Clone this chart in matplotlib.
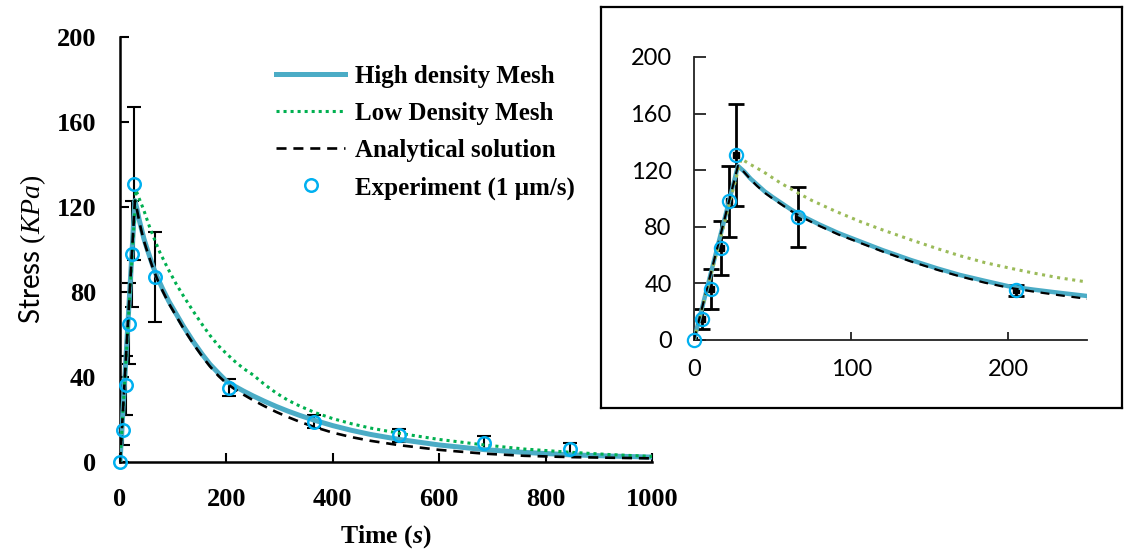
import numpy as np
import matplotlib
matplotlib.use("Agg")
import matplotlib.pyplot as plt

plt.rcParams['mathtext.fontset'] = 'custom'
plt.rcParams['mathtext.rm'] = 'Liberation Serif'
plt.rcParams['mathtext.it'] = 'Liberation Serif:italic'
plt.rcParams['mathtext.bf'] = 'Liberation Serif:bold'
plt.rcParams['mathtext.bfit'] = 'Liberation Serif:italic:bold'

# Courbes (temps en s, contrainte en KPa)
t_high = [0, 28, 32, 36, 40, 45, 50, 56, 62, 70, 80, 92, 106, 120, 138, 155, 169, 185, 200, 216,
          232, 250, 272, 294, 316, 338, 366, 400, 435, 470, 525, 600, 685, 760, 845, 920, 1000]
s_high = [0, 123, 119, 114, 110, 105, 101, 96.5, 92, 87, 81.5, 75.5, 69.5, 63.5, 56.5, 50.5, 46, 41.8, 38, 35.6,
          33.4, 31.1, 28.5, 26.1, 23.9, 21.9, 19.6, 17.1, 14.9, 13.0, 10.6, 8.0, 5.8, 4.5, 3.4, 2.8, 2.3]

t_low = [0, 30, 36, 44, 55, 66, 75, 90, 106, 120, 138, 155, 169, 185, 200, 216, 232, 250, 272, 294,
         316, 338, 366, 400, 435, 470, 525, 600, 685, 760, 845, 920, 1000]
s_low = [0, 128, 124, 119, 111, 104, 98.6, 91, 83.6, 77.8, 70.8, 64.5, 59.6, 54.7, 51, 47.3, 44, 41, 36.4, 32.4,
         29, 26.3, 23.3, 20.4, 18, 16, 13.5, 10.6, 8, 6.1, 4.6, 3.5, 2.6]

t_ana = [0, 28, 32, 36, 40, 45, 50, 56, 62, 70, 80, 92, 106, 120, 138, 155, 169, 185, 200, 216,
         232, 250, 272, 294, 316, 338, 366, 400, 435, 470, 525, 600, 685, 760, 845, 920, 1000]
s_ana = [0, 123, 118.5, 113.5, 109, 104, 100, 95.5, 91, 86, 80.5, 74.5, 68.5, 62.5, 55.5, 49.5, 45, 40.5, 37, 34.2,
         31.7, 29.1, 26.2, 23.5, 21.1, 18.9, 16.4, 13.8, 11.7, 10.0, 7.9, 5.7, 3.9, 2.9, 2.3, 2.0, 1.7]

# Points expérimentaux (1 µm/s) avec barres d'erreur
t_exp = [0, 5, 11, 17, 22, 27, 66, 205, 365, 525, 685, 845]
s_exp = [0, 15, 36, 65, 98, 131, 87, 35, 19, 12.5, 9, 6]
err_exp = [0, 7, 14, 19, 25, 36, 21, 4, 3, 3, 3, 3]

BLUE = '#4BACC6'
GREEN = '#00B050'
GREEN2 = '#9BBB59'
CYAN = '#00B0F0'

fig = plt.figure(figsize=(11.28, 5.57), dpi=100)

# --- graphique principal ---
ax = fig.add_axes([0.1064, 0.1706, 0.4716, 0.763])
ax.errorbar(t_exp, s_exp, yerr=err_exp, fmt='none', ecolor='black',
            elinewidth=1.5, capsize=4.7, capthick=1.5, zorder=2)
ax.plot(t_high, s_high, color=BLUE, lw=3.6, label='High density Mesh', zorder=3)
ax.plot(t_low, s_low, color=GREEN, lw=2.2, linestyle=(0, (1, 1.3)), label='Low Density Mesh', zorder=4)
ax.plot(t_ana, s_ana, color='black', lw=1.9, linestyle=(0, (3.8, 2.6)), label='Analytical solution', zorder=5)
ax.plot(t_exp, s_exp, 'o', mfc='none', mec=CYAN, mew=1.8, ms=9, label='Experiment (1 µm/s)',
        zorder=6, clip_on=False)

ax.set_xlim(0, 1000)
ax.set_ylim(0, 200)
ax.set_xticks(range(0, 1001, 200))
ax.set_yticks(range(0, 201, 40))
for s in ['top', 'right']:
    ax.spines[s].set_visible(False)
for s in ['left', 'bottom']:
    ax.spines[s].set_linewidth(1.8)
ax.tick_params(direction='in', length=6.5, width=1.5, labelsize=19)
ax.tick_params(axis='y', pad=17)
ax.tick_params(axis='x', pad=18.5)
for lab in ax.get_xticklabels() + ax.get_yticklabels():
    lab.set_fontfamily('Liberation Serif')
    lab.set_fontweight('bold')

ax.set_xlabel(r'Time ($\mathbfit{s}$)', fontfamily='Liberation Serif', fontweight='bold',
              fontsize=18.5, labelpad=9)
ax.set_ylabel(r'Stress $(KPa)$', fontfamily='Lato', fontsize=20, labelpad=6.5)

leg = ax.legend(loc='upper left', bbox_to_anchor=(0.2447, 0.883), bbox_transform=fig.transFigure,
                frameon=False, borderpad=0, borderaxespad=0, handlelength=2.76,
                handletextpad=0.4, labelspacing=0.56,
                prop={'family': 'Liberation Serif', 'weight': 'bold', 'size': 18})

# --- cadre de l'encart ---
frame = fig.add_axes([0.533, 0.2675, 0.4619, 0.72])
frame.set_xticks([])
frame.set_yticks([])
for s in frame.spines.values():
    s.set_linewidth(1.6)

# --- encart (zoom 0-250 s) ---
ins = fig.add_axes([0.6152, 0.3896, 0.3484, 0.5081])
ins.errorbar(t_exp, s_exp, yerr=err_exp, fmt='s', color='black', ms=4,
             elinewidth=2, capsize=5.5, capthick=2, zorder=2)
ins.plot(t_high, s_high, color=BLUE, lw=3.2, zorder=3)
ins.plot(t_low, s_low, color=GREEN2, lw=2.2, linestyle=(0, (1, 1.5)), zorder=4)
ins.plot(t_ana, s_ana, color='black', lw=1.6, linestyle=(0, (4, 3)), zorder=5)
ins.plot(t_exp, s_exp, 'o', mfc='none', mec=CYAN, mew=1.6, ms=9.5, zorder=6, clip_on=False)
ins.set_xlim(0, 250)
ins.set_ylim(0, 200)
ins.set_xticks([0, 100, 200])
ins.set_yticks(range(0, 201, 40))
for s in ['top', 'right']:
    ins.spines[s].set_visible(False)
for s in ['left', 'bottom']:
    ins.spines[s].set_linewidth(1.3)
    ins.spines[s].set_color('#222222')
ins.tick_params(direction='in', width=1.3, labelsize=17, color='#222222')
ins.tick_params(axis='y', length=8.4, pad=16)
ins.tick_params(axis='x', length=6, pad=14)
for lab in ins.get_xticklabels() + ins.get_yticklabels():
    lab.set_fontfamily('Lato')

fig.savefig('out.png', dpi=100)
